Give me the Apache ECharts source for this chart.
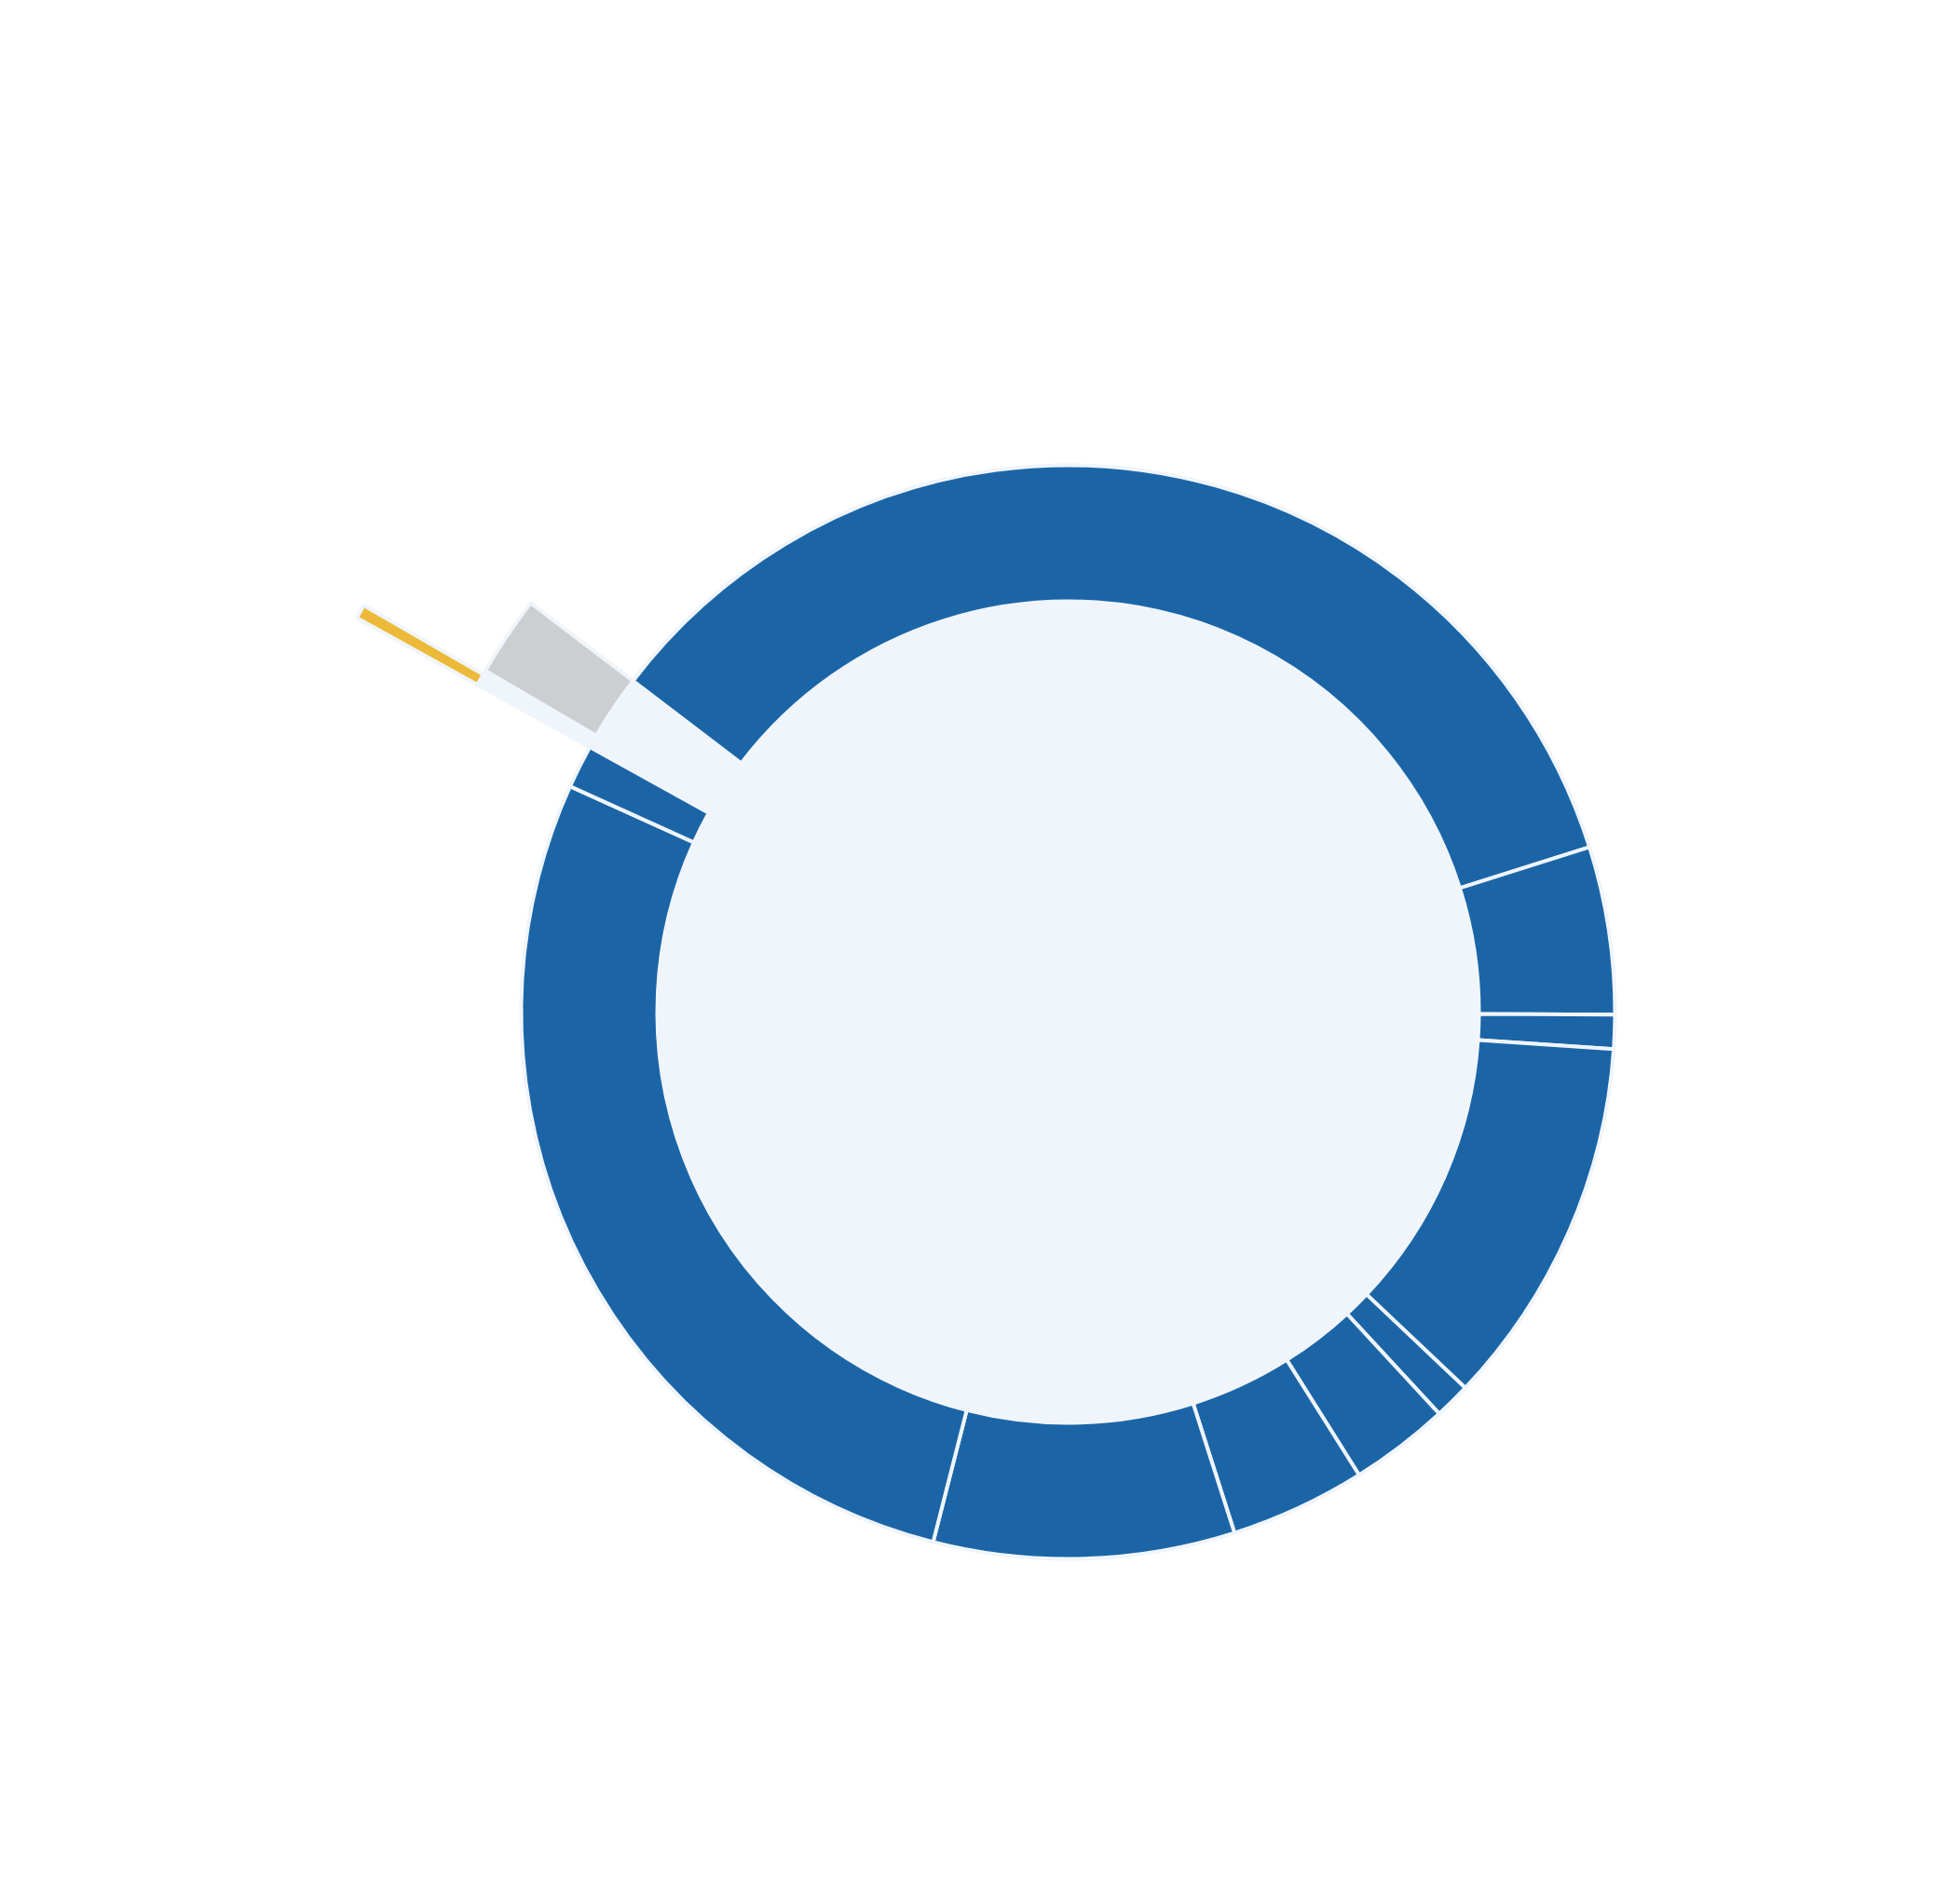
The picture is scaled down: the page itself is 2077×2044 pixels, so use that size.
<!DOCTYPE html>
<html>
<head>
<meta charset="utf-8">
<title>Sunburst</title>
<script src="https://cdn.jsdelivr.net/npm/echarts@6/dist/echarts.min.js"></script>
<style>
  html, body { margin: 0; padding: 0; background: #ffffff; }
  #chart { width: 2077px; height: 2044px; }
</style>
</head>
<body>
<div id="chart"></div>
<script>
// ring 1: first entry is the open group, its value comes from its children
const groupNames = ['Group K', 'Group A', 'Group B', 'Group C', 'Group D', 'Group E',
  'Group F', 'Group G', 'Group H', 'Group I', 'Group J'];
const groupValues = [null, 34.77, 4.95, 1.01, 10.98, 1.07, 2.94, 4.01, 8.89, 27.81, 1.28];

// ring 2: children of the open group
const subNames = ['Sub 1', 'Sub 2'];
const subValues = [0.38, 1.92];

// ring 3: child of Sub 1
const leafNames = ['Leaf 1'];
const leafValues = [0.28];

const LIGHT = '#eff5fa';
const BLUE = '#1b65a7';
const GREY = '#cbcfd2';
const YELLOW = '#ecba38';

const leaves = leafNames.map((name, i) => ({
  name,
  value: leafValues[i],
  itemStyle: { color: YELLOW },
}));

const subs = subNames.map((name, i) => ({
  name,
  value: subValues[i],
  itemStyle: { color: i === 0 ? LIGHT : GREY },
  children: i === 0 ? leaves : undefined,
}));

const groups = groupNames.map((name, i) => {
  if (i === 0) {
    return { name, itemStyle: { color: LIGHT }, children: subs };
  }
  return { name, value: groupValues[i], itemStyle: { color: BLUE } };
});

const chart = echarts.init(document.getElementById('chart'));
chart.setOption({
  animation: false,
  series: [
    {
      type: 'sunburst',
      center: [1146.5, 1086.5],
      sort: null,
      startAngle: 151,
      clockwise: true,
      nodeClick: false,
      label: { show: false },
      itemStyle: {
        borderColor: LIGHT,
        borderWidth: 4,
      },
      emphasis: { focus: 'none' },
      levels: [
        {},
        { r0: 0, r: 441 },
        { r0: 441, r: 587 },
        { r0: 587, r: 725 },
        { r0: 725, r: 873 },
      ],
      data: [
        {
          name: 'Total',
          itemStyle: { color: LIGHT },
          children: groups,
        },
      ],
    },
  ],
});
</script>
</body>
</html>
